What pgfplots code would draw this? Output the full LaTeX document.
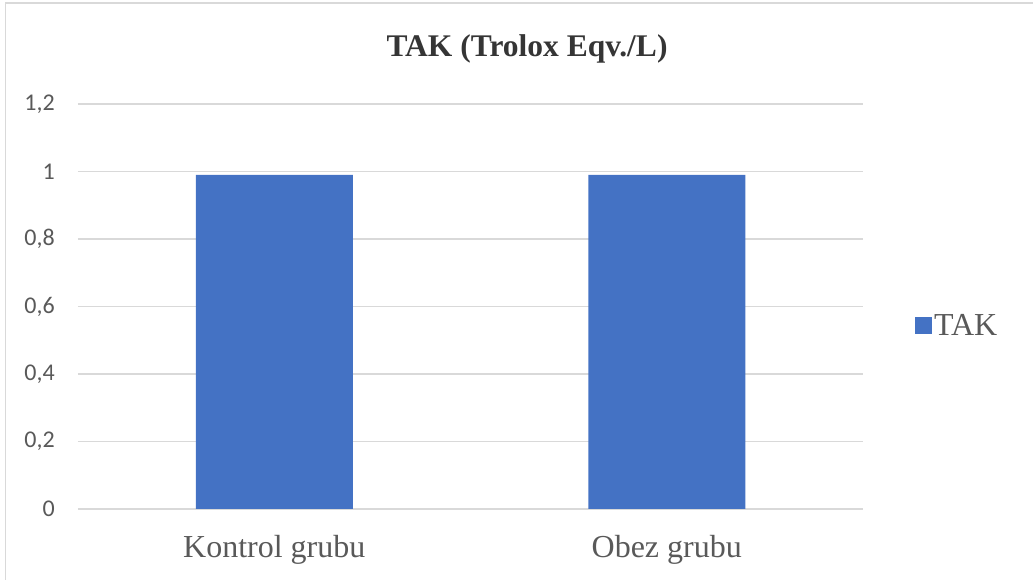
\documentclass[border=0pt]{standalone}
\usepackage{fontspec}
\setmainfont{Liberation Serif}
\newfontfamily\carlito{Carlito}
\usepackage{pgfplots}
\pgfplotsset{compat=1.18}

\definecolor{barblue}{HTML}{4472C4}
\definecolor{gridgray}{HTML}{D9D9D9}
\definecolor{textgray}{HTML}{595959}

\begin{document}
\begin{tikzpicture}[x=1pt,y=1pt]
\useasboundingbox (0,0) rectangle (1033,580);
% chart frame (left and top edges show)
\draw[gridgray, line width=1.2pt] (5.5,0) -- (5.5,577) -- (1033,577);

\node[font=\bfseries\fontsize{31.5}{36}\selectfont, text=textgray!60!black] at (527,531) {TAK (Trolox Eqv./L)};

\begin{axis}[
  at={(78pt,71pt)}, anchor=south west,
  scale only axis,
  width=785pt, height=405pt,
  xmin=-0.5, xmax=1.5,
  ymin=0, ymax=1.2,
  ytick={0,0.2,...,1.2},
  xtick={0,1},
  xticklabels={Kontrol grubu, Obez grubu},
  ymajorgrids=true,
  grid style={gridgray, line width=1.3pt},
  axis line style={draw=none},
  major tick length=0pt,
  /pgf/number format/use comma,
  /pgf/number format/assume math mode=true,
  yticklabel style={font=\carlito\fontsize{24}{28}\selectfont, text=textgray, anchor=east, inner sep=0pt, xshift=-23pt},
  xticklabel style={font=\fontsize{32}{36}\selectfont, text=textgray, anchor=north, inner sep=0pt, yshift=-26pt},
  legend style={at={(1.066,0.452)}, anchor=west, draw=none, fill=none, inner sep=0pt,
    font=\fontsize{32}{36}\selectfont, text=textgray,
    /tikz/every even column/.append style={column sep=7pt}},
  legend image code/.code={\fill[barblue] (0pt,-8.5pt) rectangle (17pt,8.5pt);},
]
\addplot[ybar, bar width=157pt, bar shift=0pt, fill=barblue, draw=none] coordinates {(0,0.99) (1,0.99)};
\addlegendentry{TAK}
\end{axis}
\end{tikzpicture}
\end{document}
